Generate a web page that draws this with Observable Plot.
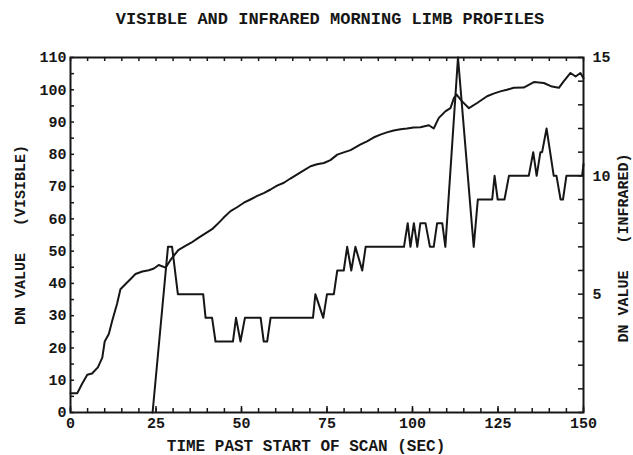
<!DOCTYPE html>
<html><head><meta charset="utf-8">
<script src="https://cdn.jsdelivr.net/npm/d3@7"></script>
<script src="https://cdn.jsdelivr.net/npm/@observablehq/plot@0.6"></script>
<style>body{margin:0;background:#fff} svg{display:block}</style>
</head><body><div id="chart"></div>
<script>
const title = "VISIBLE AND INFRARED MORNING LIMB PROFILES";
const xLabel = "TIME PAST START OF SCAN (SEC)";
const yLeftLabel = "DN VALUE\u00a0\u00a0\u00a0(VISIBLE)";
const yRightLabel = "DN VALUE\u00a0\u00a0\u00a0(INFRARED)";
const xTicks = [0, 25, 50, 75, 100, 125, 150];
const yLeftTicks = [0, 10, 20, 30, 40, 50, 60, 70, 80, 90, 100, 110];
const yRightTicks = [5, 10, 15];

const visTime = [0,2,3.4,4.9,6.3,8,9.3,10,11.2,12.2,13.6,14.6,16.1,17.5,19,21,22.9,24.4,25.8,27.8,29.2,31.5,33.6,35.3,37.5,39,41.4,42.9,44.8,46.8,48.7,50.7,52.6,54.6,56.5,58.5,60.4,62.4,64.3,66.3,68.2,70.2,72.1,74.1,76,78,79.9,81.9,84.7,86.7,88.6,90.6,92.5,94.5,96.5,98.4,100.3,102.3,104.8,106.2,107.7,109.6,111.1,112.1,112.9,114.5,116.5,118.9,121.8,123.7,125.7,127.6,129.6,132.5,135.5,138.4,140.8,142.8,144.2,146.2,147.7,149.1,150];
const visDN = [6,6,8.9,11.7,12.1,14,17,22,24.3,28.4,33.6,38.2,39.8,41.3,42.9,43.7,44.1,44.6,45.7,44.9,47.2,50.3,51.6,52.6,54.2,55.2,56.8,58.3,60.4,62.4,63.6,65,66,67.1,68,69.1,70.3,71.2,72.5,73.8,75,76.3,76.9,77.3,78.2,79.9,80.6,81.3,83,84,85.2,86.1,86.8,87.4,87.8,88,88.3,88.4,89,88,91.3,93.3,94.3,97.4,98.5,96.4,94.3,95.9,98,98.8,99.5,100,100.6,100.7,102.4,102.1,101,100.6,102.6,105.2,104.1,105.2,103.6];

const irTime = [24,28.5,29.7,31.4,38.8,39.5,41.4,42.4,47.5,48.4,49.7,51,55.6,56.5,57.5,58.5,70.9,71.6,73.9,75,77,78,79.9,80.9,82.1,83.3,85.3,86.3,97.5,98.6,99.4,100.4,101.4,102.3,103.8,105.1,106.2,107.2,108.7,109.6,113.3,117.9,119.1,123.3,124,124.9,126.9,128.2,134,135.3,136.3,137.4,137.9,139.2,141.3,142.1,143.3,144,145,149.6,150];
const irDN = [0,7,7,5,5,4,4,3,3,4,3,4,4,3,3,4,4,5,4,5,5,6,6,7,6,7,6,7,7,8,7,8,7,8,8,7,7,8,8,7,15,7,9,9,10,9,9,10,10,11,10,11,11,12,10,10,9,9,10,10,10.5];

const visMax = 110, irMax = 15;
const k = visMax / irMax;
const vis = visTime.map((t, i) => ({t, v: visDN[i]}));
const ir = irTime.map((t, i) => ({t, v: irDN[i] * k}));
const font = "'Liberation Mono', 'Courier New', monospace";
const ink = "#161616";

const W = 633, H = 455, mL = 70, mR = 50, mT = 57, mB = 43;
const fw = W - mL - mR, fh = H - mT - mB;
const tick = 4;

const chart = Plot.plot({
  width: W, height: H,
  marginLeft: mL, marginRight: mR, marginTop: mT, marginBottom: mB,
  style: {fontFamily: font, fontWeight: "bold", fontSize: "15px", color: ink, background: "#fff"},
  x: {domain: [0, 150], axis: null},
  y: {domain: [0, visMax], axis: null},
  marks: [
    // inward ticks
    Plot.tickX(d3.range(0, 151, 5), {x: d => d, insetTop: fh - tick, stroke: ink, strokeWidth: 1.5}),
    Plot.tickX(xTicks, {x: d => d, insetTop: fh - tick - 2, stroke: ink, strokeWidth: 1.5}),
    Plot.tickX(d3.range(0, 151, 5), {x: d => d, insetBottom: fh - tick, stroke: ink, strokeWidth: 1.5}),
    Plot.tickY(d3.range(0, 111, 5), {y: d => d, insetRight: fw - tick, stroke: ink, strokeWidth: 1.5}),
    Plot.tickY(d3.range(0, irMax + 1).map(v => v * k), {y: d => d, insetLeft: fw - tick - 1, stroke: ink, strokeWidth: 1.5}),
    // tick labels
    Plot.axisX(xTicks, {anchor: "bottom", tickSize: 0, tickPadding: 5, label: null}),
    Plot.axisY(yLeftTicks, {anchor: "left", tickSize: 0, tickPadding: 4, label: null}),
    Plot.axisY(yRightTicks.map(v => v * k), {anchor: "right", tickSize: 0, tickPadding: 9, tickFormat: d => Math.round(d / k), label: null}),
    Plot.frame({stroke: ink, strokeWidth: 2}),
    Plot.line(vis, {x: "t", y: "v", stroke: ink, strokeWidth: 2}),
    Plot.line(ir, {x: "t", y: "v", stroke: ink, strokeWidth: 2}),
    Plot.text([title], {frameAnchor: "top", dy: -39, dx: 3, fontSize: 17, fontWeight: "bold", textAnchor: "middle", lineAnchor: "middle", fill: ink}),
    Plot.text([xLabel], {frameAnchor: "bottom", dy: 33, dx: -21, fontSize: 16, fontWeight: "bold", textAnchor: "middle", lineAnchor: "middle", fill: ink}),
    Plot.text([yLeftLabel], {frameAnchor: "left", dx: -50, rotate: -90, fontSize: 15, fontWeight: "bold", textAnchor: "middle", lineAnchor: "middle", fill: ink}),
    Plot.text([yRightLabel], {frameAnchor: "right", dx: 40, dy: 13, rotate: -90, fontSize: 15, fontWeight: "bold", textAnchor: "middle", lineAnchor: "middle", fill: ink})
  ]
});
document.getElementById("chart").appendChild(chart);
</script>
</body></html>
